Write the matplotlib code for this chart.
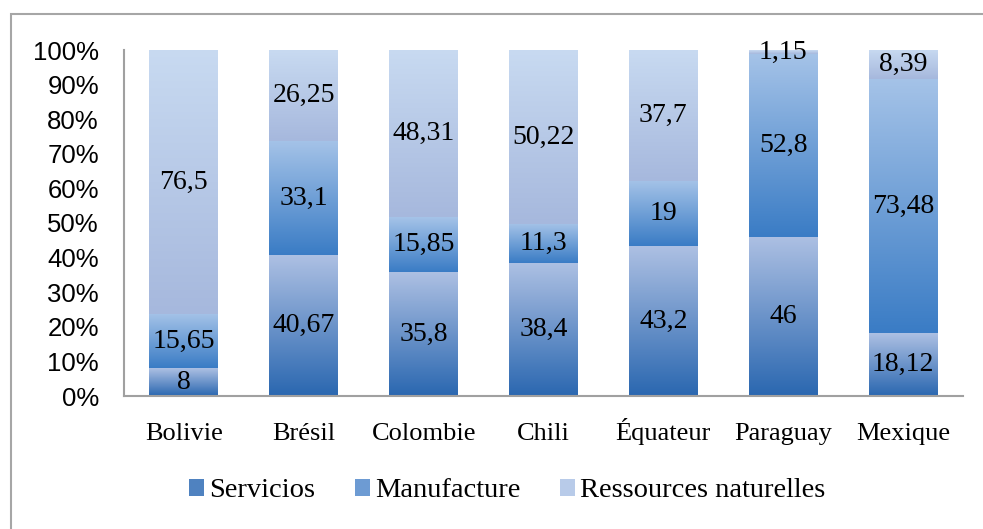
import numpy as np
import matplotlib
matplotlib.use('Agg')
import matplotlib.pyplot as plt
from matplotlib.colors import LinearSegmentedColormap
from matplotlib.patches import Rectangle, Patch

countries = ['Bolivie', 'Brésil', 'Colombie', 'Chili', 'Équateur', 'Paraguay', 'Mexique']
servicios = [8, 40.67, 35.8, 38.4, 43.2, 46, 18.12]
manufacture = [15.65, 33.1, 15.85, 11.3, 19, 52.8, 73.48]
ressources = [76.5, 26.25, 48.31, 50.22, 37.7, 1.15, 8.39]
series_names = ['Servicios', 'Manufacture', 'Ressources naturelles']

# (bottom colour, top colour) of each segment gradient
grads = [('#2a67b0', '#adc0e3'),
         ('#3a7cc5', '#a5c3e8'),
         ('#a6b8dd', '#c8daf1')]
legend_colors = ['#4f82c0', '#6d9bd3', '#b8cbe9']

serif = 'Liberation Serif'
sans = 'Liberation Sans'

fig = plt.figure(figsize=(9.83, 5.29), dpi=100)
ax = fig.add_axes([124/983, 1 - 396/529, (963 - 124)/983, (396 - 50)/529])

data = np.array([servicios, manufacture, ressources], dtype=float)
totals = data.sum(axis=0)
pct = data / totals * 100
x = np.arange(len(countries))
bottom = np.zeros(len(countries))

grad = np.linspace(0, 1, 256).reshape(-1, 1)
for i in range(3):
    cmap = LinearSegmentedColormap.from_list('g%d' % i, grads[i])
    bars = ax.bar(x, pct[i], 0.575, bottom=bottom, facecolor='none', edgecolor='none')
    for j, b in enumerate(bars):
        x0, y0 = b.get_x(), b.get_y()
        im = ax.imshow(grad, extent=[x0, x0 + b.get_width(), y0, y0 + b.get_height()],
                       origin='lower', aspect='auto', cmap=cmap, zorder=2)
        im.set_clip_path(b)
        ax.text(x[j], y0 + b.get_height() / 2, '{:g}'.format(data[i][j]).replace('.', ','),
                ha='center', va='center', fontsize=20, family=serif, zorder=3)
    bottom += pct[i]

ax.set_xlim(-0.5, len(countries) - 0.5)
ax.set_ylim(0, 100)
ax.set_yticks(np.arange(0, 101, 10))
ax.set_yticklabels(['%d%%' % v for v in range(0, 101, 10)], fontsize=18.5, family=sans)
ax.set_xticks(x)
ax.set_xticklabels(countries, fontsize=19, family=serif, va='baseline')
ax.tick_params(axis='y', length=0, pad=18)
ax.tick_params(axis='x', length=0, pad=32)
for s in ['top', 'right']:
    ax.spines[s].set_visible(False)
for s in ['left', 'bottom']:
    ax.spines[s].set_color('#a0a0a0')
    ax.spines[s].set_linewidth(1.5)

# outer chart border (only left and top visible)
fig.add_artist(Rectangle((11/983, -0.2), 1.2, 1.2 - 14/529, transform=fig.transFigure,
                         fill=False, edgecolor='#a6a6a6', linewidth=1.5))

handles = [Patch(facecolor=c, edgecolor='none') for c in legend_colors]
fig.legend(handles, series_names, loc='center', bbox_to_anchor=(0.516, 0.072), ncol=3,
           frameon=False, prop={'family': serif, 'size': 20.5},
           handlelength=0.53, handleheight=0.53, handletextpad=0.18, columnspacing=1.4)

fig.savefig('out.png', dpi=100)
